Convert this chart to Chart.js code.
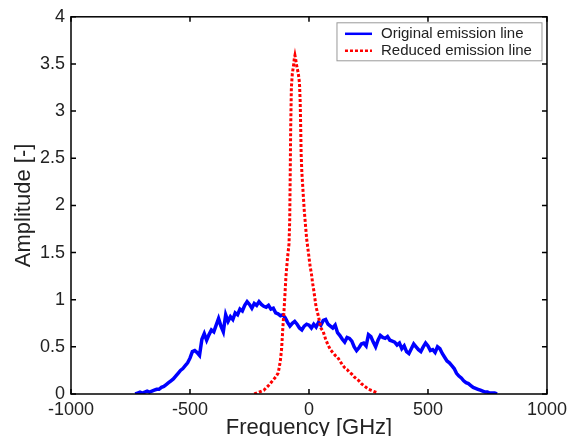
<!DOCTYPE html>
<html>
<head>
<meta charset="utf-8">
<script src="https://cdn.jsdelivr.net/npm/chart.js@4/dist/chart.umd.min.js"></script>
<style>
  body { margin: 0; background: #fff; }
  canvas { display: block; }
</style>
</head>
<body>
<canvas id="myChart" width="572" height="436"></canvas>
<script>
// Original emission line (blue)
const origFreq = [
  -730,-720,-710,-700,-690,-680,-670,-660,-650,-640,-630,-620,-610,-600,-590,-580,-570,-560,-550,-540,
  -530,-520,-510,-500,-490,-480,-470,-460,-450,-440,-430,-420,-410,-400,-390,-380,-370,-360,-350,-340,
  -330,-320,-310,-300,-290,-280,-270,-260,-250,-240,-230,-220,-210,-200,-190,-180,-170,-160,-150,-140,
  -130,-120,-110,-100,-90,-80,-70,-60,-50,-40,-30,-20,-10,0,10,20,30,40,50,60,
  70,80,90,100,110,120,130,140,150,160,170,180,190,200,210,220,230,240,250,260,
  270,280,290,300,310,320,330,340,350,360,370,380,390,400,410,420,430,440,450,460,
  470,480,490,500,510,520,530,540,550,560,570,580,590,600,610,620,630,640,650,660,
  670,680,690,700,710,720,730,740,750,760,770,780,790
];
const origAmp = [
  0.00,0.01,0.02,0.01,0.02,0.03,0.02,0.03,0.04,0.05,0.05,0.07,0.08,0.10,0.12,0.14,0.16,0.19,0.22,0.25,
  0.27,0.30,0.33,0.38,0.45,0.46,0.44,0.41,0.58,0.64,0.57,0.63,0.68,0.66,0.73,0.80,0.72,0.66,0.84,0.77,
  0.82,0.79,0.86,0.84,0.90,0.88,0.94,0.98,0.95,0.91,0.96,0.94,0.98,0.95,0.93,0.92,0.94,0.90,0.91,0.86,
  0.85,0.83,0.84,0.81,0.76,0.72,0.75,0.77,0.74,0.70,0.68,0.72,0.74,0.73,0.70,0.74,0.71,0.76,0.73,0.78,
  0.79,0.74,0.72,0.70,0.73,0.65,0.62,0.58,0.55,0.60,0.59,0.56,0.50,0.46,0.49,0.53,0.54,0.51,0.63,0.61,
  0.55,0.50,0.57,0.62,0.60,0.59,0.61,0.57,0.56,0.55,0.52,0.54,0.48,0.51,0.45,0.43,0.48,0.53,0.50,0.47,
  0.45,0.50,0.54,0.51,0.46,0.47,0.44,0.50,0.48,0.43,0.39,0.35,0.33,0.30,0.27,0.22,0.19,0.17,0.14,0.12,
  0.11,0.09,0.07,0.06,0.05,0.04,0.03,0.02,0.02,0.01,0.01,0.01,0.00
];

// Reduced emission line (red)
const redFreq = [
  -230,-210,-190,-170,-160,-150,-140,-130,-125,-120,-115,-110,-105,-100,-97,-90,-84,-81,-79,-77,
  -75,-74,-70,-65,-62,-59,-56,-53,-50,-45,-40,-37,-35,-33,-30,-25,-20,-15,-10,-5,
  0,5,10,15,20,30,40,50,60,70,80,90,100,110,120,130,140,150,160,170,
  180,190,200,210,220,230,240,250,260,270,280,290
];
const redAmp = [
  0.00,0.02,0.04,0.09,0.12,0.15,0.18,0.22,0.28,0.36,0.48,0.70,0.88,1.10,1.24,1.45,1.59,1.84,2.30,2.80,
  3.10,3.25,3.40,3.48,3.55,3.59,3.55,3.50,3.46,3.40,3.30,3.10,2.85,2.55,2.35,2.15,1.95,1.80,1.65,1.55,
  1.45,1.35,1.28,1.18,1.10,0.92,0.82,0.70,0.66,0.58,0.52,0.47,0.44,0.41,0.39,0.35,0.31,0.28,0.26,0.23,
  0.21,0.18,0.16,0.14,0.11,0.09,0.07,0.05,0.04,0.03,0.02,0.01
];

// tick labels
const xTicks = [-1000, -500, 0, 500, 1000];
const yTicks = [0, 0.5, 1, 1.5, 2, 2.5, 3, 3.5, 4];

const seriesNames = ['Original emission line', 'Reduced emission line'];

const fontFamily = '"Liberation Sans", Arial, sans-serif';

// box round the plot with ticks pointing inwards, like matlab
const framePlugin = {
  id: 'frame',
  afterDatasetsDraw(chart) {
    const ctx = chart.ctx;
    const a = chart.chartArea;
    const xs = chart.scales.x;
    const ys = chart.scales.y;
    ctx.save();
    ctx.strokeStyle = '#000';
    ctx.lineWidth = 1.5;
    ctx.strokeRect(a.left, a.top, a.right - a.left, a.bottom - a.top);
    ctx.beginPath();
    xs.ticks.forEach(t => {
      const px = xs.getPixelForValue(t.value);
      ctx.moveTo(px, a.bottom); ctx.lineTo(px, a.bottom - 5);
      ctx.moveTo(px, a.top); ctx.lineTo(px, a.top + 5);
    });
    ys.ticks.forEach(t => {
      const py = ys.getPixelForValue(t.value);
      ctx.moveTo(a.left, py); ctx.lineTo(a.left + 5, py);
      ctx.moveTo(a.right, py); ctx.lineTo(a.right - 5, py);
    });
    ctx.stroke();

    // legend box in the top right corner
    const bx = a.right - 210, by = a.top + 6, bw = 205, bh = 38;
    ctx.fillStyle = '#fff';
    ctx.fillRect(bx, by, bw, bh);
    ctx.strokeStyle = '#999';
    ctx.lineWidth = 1;
    ctx.strokeRect(bx, by, bw, bh);
    ctx.font = '15px ' + fontFamily;
    ctx.textBaseline = 'middle';
    ctx.fillStyle = '#222';
    chart.data.datasets.forEach((ds, i) => {
      const ly = by + 11 + i * 17;
      ctx.beginPath();
      ctx.strokeStyle = ds.borderColor;
      ctx.lineWidth = 2.5;
      ctx.setLineDash(ds.borderDash || []);
      ctx.moveTo(bx + 8, ly);
      ctx.lineTo(bx + 35, ly);
      ctx.stroke();
      ctx.setLineDash([]);
      ctx.fillText(ds.label, bx + 44, ly);
    });
    ctx.restore();
  }
};

const myChart = document.getElementById('myChart');

let lineChart = new Chart(myChart, {
  type: 'line',
  data: {
    datasets: [
      {
        label: seriesNames[0],
        data: origFreq.map((f, i) => ({ x: f, y: origAmp[i] })),
        borderColor: '#0000ff',
        borderWidth: 3.5,
        pointRadius: 0,
        order: 1
      },
      {
        label: seriesNames[1],
        data: redFreq.map((f, i) => ({ x: f, y: redAmp[i] })),
        borderColor: '#ff0000',
        borderWidth: 3,
        borderDash: [3, 2],
        pointRadius: 0,
        order: 0
      }
    ]
  },
  options: {
    responsive: false,
    animation: false,
    layout: { padding: { top: 16, right: 23, left: 0, bottom: 0 } },
    plugins: {
      legend: { display: false },
      tooltip: { enabled: false }
    },
    scales: {
      x: {
        type: 'linear',
        min: -1000,
        max: 1000,
        afterBuildTicks: s => { s.ticks = xTicks.map(v => ({ value: v })); },
        afterFit: s => { s.height = 42; },
        grid: { display: false, drawTicks: false },
        border: { display: false },
        ticks: {
          padding: 5,
          color: '#222',
          font: { size: 18, family: fontFamily },
          callback: v => String(v)
        },
        title: {
          display: true,
          text: 'Frequency [GHz]',
          color: '#222',
          font: { size: 22, family: fontFamily, lineHeight: 1 },
          padding: { top: 0, bottom: -3 }
        }
      },
      y: {
        min: 0,
        max: 4,
        afterBuildTicks: s => { s.ticks = yTicks.map(v => ({ value: v })); },
        afterFit: s => { s.width = 71; },
        grid: { display: false, drawTicks: false },
        border: { display: false },
        ticks: {
          padding: 6,
          color: '#222',
          font: { size: 18, family: fontFamily },
          callback: v => String(v)
        },
        title: {
          display: true,
          text: 'Amplitude [-]',
          color: '#222',
          font: { size: 22, family: fontFamily, lineHeight: 1.2 },
          padding: { top: 11, bottom: 0 }
        }
      }
    }
  },
  plugins: [framePlugin]
});
</script>
</body>
</html>
